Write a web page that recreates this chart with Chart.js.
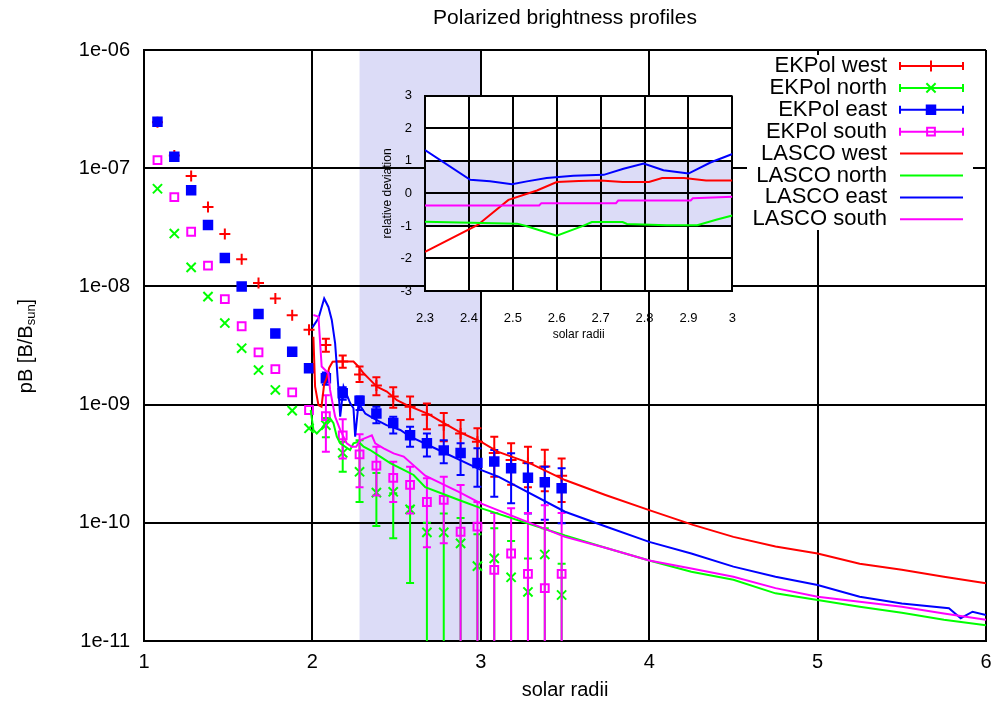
<!DOCTYPE html>
<html>
<head>
<meta charset="utf-8">
<script src="https://cdn.jsdelivr.net/npm/chart.js@4.4.1/dist/chart.umd.min.js"></script>
<style>
  html, body { margin: 0; padding: 0; background: #fff; }
  #wrap { position: relative; width: 1005px; height: 707px; }
  #main { position: absolute; left: 0; top: 0; }
  #inset { position: absolute; left: 360px; top: 75px; }
</style>
</head>
<body>
<div id="wrap">
  <canvas id="main" width="1005" height="707"></canvas>
  <canvas id="inset" width="396" height="275"></canvas>
</div>
<script>
// EKPol radial samples (solar radii) shared by the four limbs
const ekpolX = [1.08, 1.18, 1.28, 1.38, 1.48, 1.58, 1.68, 1.78, 1.88, 1.98, 2.08, 2.18, 2.28,
  2.38, 2.48, 2.58, 2.68, 2.78, 2.88, 2.98, 3.08, 3.18, 3.28, 3.38, 3.48];

const ekpolWest = [2.45e-7, 1.28e-7, 8.6e-8, 4.7e-8, 2.77e-8, 1.7e-8, 1.07e-8, 7.9e-9, 5.7e-9, 4.3e-9,
  3.19e-9, 2.31e-9, 1.8e-9, 1.45e-9, 1.17e-9, 9.6e-10, 8.2e-10, 6.7e-10, 5.7e-10, 4.85e-10,
  3.9e-10, 3.4e-10, 3.2e-10, 3.0e-10, 2.5e-10];
const ekpolWestLo = [null, null, null, null, null, null, null, null, null, null,
  2.8e-9, 2.05e-9, 1.55e-9, 1.2e-9, 9.4e-10, 7.5e-10, 6.2e-10, 4.9e-10, 4.0e-10, 3.4e-10,
  2.45e-10, 2.1e-10, 2.0e-10, 1.85e-10, 1.5e-10];
const ekpolWestHi = [null, null, null, null, null, null, null, null, null, null,
  3.6e-9, 2.6e-9, 2.1e-9, 1.7e-9, 1.4e-9, 1.17e-9, 1.02e-9, 8.5e-10, 7.4e-10, 6.3e-10,
  5.35e-10, 4.7e-10, 4.4e-10, 4.15e-10, 3.5e-10];

const ekpolNorth = [6.7e-8, 2.8e-8, 1.45e-8, 8.2e-9, 4.9e-9, 3.0e-9, 1.96e-9, 1.33e-9, 8.9e-10, 6.3e-10,
  6.7e-10, 3.9e-10, 2.7e-10, 1.8e-10, 1.83e-10, 1.3e-10, 8.3e-11, 8.3e-11, 6.7e-11, 4.3e-11,
  5.0e-11, 3.46e-11, 2.6e-11, 5.4e-11, 2.45e-11];
const ekpolNorthLo = [null, null, null, null, null, null, null, null, null, null,
  5.3e-10, 2.7e-10, 1.5e-10, 9.4e-11, 7.4e-11, 3.1e-11, 1e-12, 1e-12, 1e-12, 1e-12,
  1e-12, 1e-12, 1e-12, 1e-12, 1e-12];
const ekpolNorthHi = [null, null, null, null, null, null, null, null, null, null,
  7.7e-10, 4.85e-10, 5.0e-10, 2.64e-10, 1.78e-10, 1.37e-10, 1.0e-10, 1.2e-10, 1.1e-10, 8e-11,
  9e-11, 7e-11, 5e-11, 9e-11, 4.5e-11];

const ekpolEast = [2.47e-7, 1.25e-7, 6.5e-8, 3.3e-8, 1.74e-8, 1.0e-8, 5.85e-9, 4.0e-9, 2.8e-9, 2.03e-9,
  1.67e-9, 1.25e-9, 1.08e-9, 8.4e-10, 7.0e-10, 5.5e-10, 4.7e-10, 4.1e-10, 3.9e-10, 3.2e-10,
  3.3e-10, 2.9e-10, 2.4e-10, 2.2e-10, 1.96e-10];
const ekpolEastLo = [null, null, null, null, null, null, null, null, null, null,
  1.47e-9, 1.1e-9, 9.0e-10, 6.95e-10, 5.7e-10, 4.4e-10, 3.63e-10, 3.19e-10, 2.54e-10, 2.02e-10,
  1.66e-10, 1.46e-10, 1.2e-10, 1.06e-10, 9.9e-11];
const ekpolEastHi = [null, null, null, null, null, null, null, null, null, null,
  1.87e-9, 1.4e-9, 1.17e-9, 9.6e-10, 7.9e-10, 6.5e-10, 5.7e-10, 5.0e-10, 4.7e-10, 4.27e-10,
  4.13e-10, 3.87e-10, 3.19e-10, 2.98e-10, 2.89e-10];

const ekpolSouth = [1.17e-7, 5.7e-8, 2.9e-8, 1.5e-8, 7.8e-9, 4.6e-9, 2.77e-9, 2.0e-9, 1.27e-9, 9.0e-10,
  8.0e-10, 5.5e-10, 3.8e-10, 3.05e-10, 2.4e-10, 2.09e-10, 1.5e-10, 1.56e-10, 8.4e-11, 9.3e-11,
  4.0e-11, 5.5e-11, 3.7e-11, 2.8e-11, 3.7e-11];
const ekpolSouthLo = [null, null, null, null, null, null, null, null, null, null,
  4.0e-10, 3.5e-10, 2.0e-10, 1.7e-10, 1.5e-10, 1.2e-10, 6.2e-11, 6.7e-11, 1e-12, 1e-12,
  1e-12, 1e-12, 1e-12, 1e-12, 1e-12];
const ekpolSouthHi = [null, null, null, null, null, null, null, null, null, null,
  1.2e-9, 7.5e-10, 5.6e-10, 4.4e-10, 3.29e-10, 2.98e-10, 2.38e-10, 2.45e-10, 2.09e-10, 1.5e-10,
  1.21e-10, 1.33e-10, 1.21e-10, 1.41e-10, 1.21e-10];

// LASCO C2 profiles
const lascoWestX = [2.006, 2.016, 2.036, 2.054, 2.07, 2.083, 2.1, 2.12, 2.145, 2.244, 2.274, 2.304,
  2.343, 2.383, 2.442, 2.502, 2.561, 2.69, 2.75, 2.88, 3.0, 3.1, 3.29, 3.5, 3.74, 4.0, 4.26, 4.5,
  4.75, 5.0, 5.25, 5.5, 5.75, 6.0];
const lascoWest = [3.75e-9, 1.42e-9, 9.9e-10, 9.6e-10, 1.5e-9, 1.65e-9, 2.05e-9, 2.3e-9, 2.31e-9,
  2.31e-9, 2.09e-9, 1.84e-9, 1.62e-9, 1.42e-9, 1.29e-9, 1.09e-9, 9.9e-10, 8.3e-10, 7.4e-10, 5.8e-10,
  4.85e-10, 4.0e-10, 3.2e-10, 2.3e-10, 1.72e-10, 1.28e-10, 9.6e-11, 7.6e-11, 6.3e-11, 5.5e-11,
  4.5e-11, 4.0e-11, 3.5e-11, 3.08e-11];

const lascoNorthX = [1.99, 2.006, 2.026, 2.055, 2.076, 2.105, 2.125, 2.145, 2.165, 2.224, 2.244,
  2.274, 2.304, 2.343, 2.403, 2.462, 2.542, 2.601, 2.67, 2.87, 3.0, 3.5, 3.75, 4.0, 4.25, 4.5,
  4.75, 5.0, 5.25, 5.5, 5.75, 6.0];
const lascoNorth = [9.0e-10, 6.1e-10, 5.7e-10, 6.3e-10, 6.95e-10, 7.65e-10, 6.95e-10, 5.35e-10,
  4.7e-10, 4.13e-10, 4.7e-10, 4.85e-10, 4.4e-10, 4.13e-10, 3.63e-10, 3.2e-10, 2.8e-10, 2.54e-10,
  2.0e-10, 1.56e-10, 1.33e-10, 7.8e-11, 6.1e-11, 4.8e-11, 3.85e-11, 3.3e-11, 2.53e-11, 2.22e-11,
  1.95e-11, 1.73e-11, 1.51e-11, 1.36e-11];

const lascoEastX = [2.0, 2.036, 2.07, 2.095, 2.115, 2.135, 2.143, 2.155, 2.165, 2.185, 2.224,
  2.244, 2.254, 2.274, 2.314, 2.363, 2.44, 2.522, 2.581, 2.75, 3.0, 3.107, 3.5, 3.742, 4.0, 4.25,
  4.5, 4.75, 5.0, 5.25, 5.5, 5.78, 5.85, 5.92, 6.0];
const lascoEast = [4.5e-9, 5.37e-9, 7.9e-9, 6.7e-9, 5.2e-9, 3.3e-9, 2.3e-9, 1.33e-9, 7.9e-10,
  1.42e-9, 1.03e-9, 9.3e-10, 5.35e-10, 1.03e-9, 8.4e-10, 7.65e-10, 6.7e-10, 6.1e-10, 5.35e-10,
  4.13e-10, 2.8e-10, 2.45e-10, 1.24e-10, 9.3e-11, 6.9e-11, 5.5e-11, 4.26e-11, 3.5e-11, 2.98e-11,
  2.37e-11, 2.08e-11, 1.89e-11, 1.56e-11, 1.77e-11, 1.66e-11];

const lascoSouthX = [2.006, 2.036, 2.055, 2.095, 2.105, 2.135, 2.165, 2.204, 2.234, 2.26, 2.284,
  2.353, 2.373, 2.423, 2.482, 2.542, 2.67, 2.869, 3.0, 3.5, 3.75, 4.0, 4.25, 4.5, 4.75, 5.0, 5.25,
  5.5, 5.75, 6.0];
const lascoSouth = [5.73e-9, 5.55e-9, 2.1e-9, 1.84e-9, 1.33e-9, 7.9e-10, 6.1e-10, 4.7e-10, 4.4e-10,
  4.4e-10, 5.0e-10, 5.5e-10, 4.7e-10, 4.27e-10, 3.87e-10, 3.63e-10, 2.5e-10, 1.83e-10, 1.46e-10,
  7.6e-11, 6.1e-11, 4.8e-11, 4.1e-11, 3.5e-11, 2.8e-11, 2.37e-11, 2.15e-11, 1.95e-11, 1.71e-11,
  1.51e-11];

// relative deviation EKPol vs LASCO in the overlap interval
const overlapRange = [2.28, 3.0];
const devWestX = [2.3, 2.42, 2.49, 2.555, 2.6, 2.65, 2.7, 2.75, 2.81, 2.84, 2.89, 2.94, 3.0];
const devWest = [-1.8, -0.97, -0.2, 0.09, 0.35, 0.38, 0.4, 0.35, 0.35, 0.47, 0.47, 0.4, 0.4];
const devNorthX = [2.3, 2.51, 2.53, 2.6, 2.66, 2.68, 2.75, 2.76, 2.85, 2.92, 2.965, 3.0];
const devNorth = [-0.87, -0.93, -1.0, -1.3, -1.0, -0.88, -0.88, -0.94, -0.98, -0.98, -0.8, -0.68];
const devEastX = [2.3, 2.403, 2.448, 2.498, 2.532, 2.577, 2.638, 2.707, 2.752, 2.798, 2.843, 2.9, 2.95, 3.0];
const devEast = [1.33, 0.42, 0.37, 0.28, 0.37, 0.47, 0.54, 0.57, 0.76, 0.92, 0.71, 0.61, 0.95, 1.21];
const devSouthX = [2.3, 2.56, 2.565, 2.735, 2.74, 2.905, 2.91, 3.0];
const devSouth = [-0.37, -0.37, -0.3, -0.3, -0.22, -0.22, -0.15, -0.1];
const devBand = [-1, 1];

const xTicks = [1, 2, 3, 4, 5, 6];
const yTicks = [1e-11, 1e-10, 1e-9, 1e-8, 1e-7, 1e-6];
const yTickLabels = ['1e-11', '1e-10', '1e-09', '1e-08', '1e-07', '1e-06'];
const insetXTicks = [2.3, 2.4, 2.5, 2.6, 2.7, 2.8, 2.9, 3.0];
const insetYTicks = [-3, -2, -1, 0, 1, 2, 3];

const FONT = '"Liberation Sans", Arial, sans-serif';
Chart.defaults.font.family = FONT;
Chart.defaults.color = '#000';

const RED = '#ff0000', GREEN = '#00ff00', BLUE = '#0000ff', MAGENTA = '#ff00ff';

const pts = (xs, ys) => xs.map((x, i) => ({ x: x, y: ys[i] }));

function ekpolSet(label, ys, lo, hi, color, style, radius, fill, order) {
  return {
    label: label, data: pts(ekpolX, ys), errLo: lo, errHi: hi,
    showLine: false, borderColor: color, backgroundColor: fill,
    pointStyle: style, pointRadius: radius, pointBorderWidth: 2,
    pointBorderColor: color, pointBackgroundColor: fill, order: order
  };
}
function lascoSet(label, xs, ys, color, order) {
  return {
    label: label, data: pts(xs, ys), borderColor: color, backgroundColor: color,
    borderWidth: 2, pointRadius: 0, tension: 0, order: order
  };
}

// light band behind the overlap interval
const shadePlugin = {
  id: 'shade',
  beforeDraw(chart) {
    const { ctx, chartArea: a, scales: { x } } = chart;
    const x0 = x.getPixelForValue(overlapRange[0]);
    const x1 = x.getPixelForValue(overlapRange[1]);
    ctx.save();
    ctx.fillStyle = '#dcdcf7';
    ctx.fillRect(x0, a.top, x1 - x0, a.bottom - a.top);
    ctx.restore();
  }
};

// vertical error bars with caps, drawn with their own dataset
const errorBars = {
  id: 'errorBars',
  afterDatasetDraw(chart, args) {
    const ds = chart.data.datasets[args.index];
    if (!ds.errLo) return;
    const { ctx, chartArea: a, scales: { x, y } } = chart;
    ctx.save();
    ctx.beginPath();
    ctx.rect(a.left, a.top, a.right - a.left, a.bottom - a.top);
    ctx.clip();
    ctx.strokeStyle = ds.borderColor;
    ctx.lineWidth = 2;
    ds.data.forEach((p, i) => {
      if (ds.errLo[i] == null) return;
      const px = x.getPixelForValue(p.x);
      const yl = y.getPixelForValue(ds.errLo[i]);
      const yh = y.getPixelForValue(ds.errHi[i]);
      ctx.beginPath();
      ctx.moveTo(px, yl); ctx.lineTo(px, yh);
      ctx.moveTo(px - 4, yl); ctx.lineTo(px + 4, yl);
      ctx.moveTo(px - 4, yh); ctx.lineTo(px + 4, yh);
      ctx.stroke();
    });
    ctx.restore();
  }
};

const keyPlugin = {
  id: 'key',
  afterDraw(chart) {
    const ctx = chart.ctx;
    ctx.save();
    ctx.fillStyle = '#fff';
    ctx.fillRect(747, 55, 226, 175);
    ctx.font = '22px ' + FONT;
    ctx.textAlign = 'right';
    ctx.textBaseline = 'middle';
    chart.data.datasets.forEach((ds, i) => {
      const yy = 66 + i * 21.9;
      ctx.fillStyle = '#000';
      ctx.fillText(ds.label, 887, yy);
      ctx.strokeStyle = ds.borderColor;
      ctx.lineWidth = 2;
      ctx.beginPath();
      ctx.moveTo(900, yy); ctx.lineTo(963, yy);
      if (ds.errLo) {
        ctx.moveTo(900, yy - 4); ctx.lineTo(900, yy + 4);
        ctx.moveTo(963, yy - 4); ctx.lineTo(963, yy + 4);
      }
      ctx.stroke();
      if (ds.showLine === false) {
        ctx.fillStyle = ds.pointBackgroundColor;
        Chart.helpers.drawPoint(ctx, {
          pointStyle: ds.pointStyle, radius: ds.pointRadius, borderWidth: 2, rotation: 0
        }, 931, yy);
      }
    });
    ctx.restore();
  }
};

const labelsPlugin = {
  id: 'labels',
  afterDraw(chart) {
    const ctx = chart.ctx;
    ctx.save();
    ctx.fillStyle = '#000';
    ctx.textAlign = 'center';
    ctx.textBaseline = 'middle';
    ctx.font = '21px ' + FONT;
    ctx.fillText('Polarized brightness profiles', 565, 18);
    ctx.font = '20px ' + FONT;
    ctx.fillText('solar radii', 565, 690);

    // pB [B/B_sun] along the left edge
    ctx.translate(26, 346);
    ctx.rotate(-Math.PI / 2);
    const big = '20px ' + FONT, small = '13px ' + FONT;
    ctx.font = big; const w1 = ctx.measureText('pB [B/B').width; const w3 = ctx.measureText(']').width;
    ctx.font = small; const w2 = ctx.measureText('sun').width;
    let sx = -(w1 + w2 + w3) / 2;
    ctx.textAlign = 'left';
    ctx.font = big; ctx.fillText('pB [B/B', sx, 0); sx += w1;
    ctx.font = small; ctx.fillText('sun', sx, 5); sx += w2;
    ctx.font = big; ctx.fillText(']', sx, 0);
    ctx.restore();
  }
};

new Chart(document.getElementById('main'), {
  type: 'line',
  data: {
    datasets: [
      ekpolSet('EKPol west', ekpolWest, ekpolWestLo, ekpolWestHi, RED, 'cross', 5.5, RED, 8),
      ekpolSet('EKPol north', ekpolNorth, ekpolNorthLo, ekpolNorthHi, GREEN, 'crossRot', 6.5, GREEN, 7),
      ekpolSet('EKPol east', ekpolEast, ekpolEastLo, ekpolEastHi, BLUE, 'rect', 6, BLUE, 6),
      ekpolSet('EKPol south', ekpolSouth, ekpolSouthLo, ekpolSouthHi, MAGENTA, 'rect', 5.5, 'rgba(0,0,0,0)', 5),
      lascoSet('LASCO west', lascoWestX, lascoWest, RED, 4),
      lascoSet('LASCO north', lascoNorthX, lascoNorth, GREEN, 3),
      lascoSet('LASCO east', lascoEastX, lascoEast, BLUE, 2),
      lascoSet('LASCO south', lascoSouthX, lascoSouth, MAGENTA, 1)
    ]
  },
  options: {
    responsive: false,
    animation: false,
    devicePixelRatio: 1,
    layout: { padding: { top: 50, right: 19, left: 0, bottom: 0 } },
    plugins: { legend: { display: false }, tooltip: { enabled: false } },
    scales: {
      x: {
        type: 'linear', min: 1, max: 6,
        afterFit(s) { s.height = 66; },
        afterBuildTicks(s) { s.ticks = xTicks.map(v => ({ value: v })); },
        ticks: { padding: 9, autoSkip: false, maxRotation: 0, font: { size: 20 }, callback: v => String(v) },
        grid: { color: '#000', lineWidth: 2, drawTicks: false },
        border: { color: '#000', width: 2 }
      },
      y: {
        type: 'logarithmic', min: 1e-11, max: 1e-6,
        afterFit(s) { s.width = 144; },
        afterBuildTicks(s) { s.ticks = yTicks.map(v => ({ value: v })); },
        ticks: { padding: 14, autoSkip: false, font: { size: 20 }, callback: (v, i) => yTickLabels[i] },
        grid: { color: '#000', lineWidth: 2, drawTicks: false },
        border: { color: '#000', width: 2 }
      }
    }
  },
  plugins: [shadePlugin, errorBars, keyPlugin, labelsPlugin]
});

// inset: white plotting area with the +-1 band
const insetBack = {
  id: 'insetBack',
  beforeDraw(chart) {
    const { ctx, chartArea: a, scales: { y } } = chart;
    ctx.save();
    ctx.fillStyle = '#fff';
    ctx.fillRect(a.left, a.top, a.right - a.left, a.bottom - a.top);
    const y0 = y.getPixelForValue(devBand[1]);
    const y1 = y.getPixelForValue(devBand[0]);
    ctx.fillStyle = '#dcdcf7';
    ctx.fillRect(a.left, y0, a.right - a.left, y1 - y0);
    ctx.restore();
  },
  afterDraw(chart) {
    const { ctx, chartArea: a } = chart;
    ctx.save();
    ctx.fillStyle = '#000';
    ctx.textAlign = 'center';
    ctx.textBaseline = 'middle';
    ctx.font = '12px ' + FONT;
    ctx.fillText('solar radii', (a.left + a.right) / 2, 260);
    ctx.translate(28, (a.top + a.bottom) / 2);
    ctx.rotate(-Math.PI / 2);
    ctx.fillText('relative deviation', 0, 0);
    ctx.restore();
  }
};

const devSet = (xs, ys, color) => ({
  data: pts(xs, ys), borderColor: color, borderWidth: 2, pointRadius: 0, tension: 0
});

new Chart(document.getElementById('inset'), {
  type: 'line',
  data: {
    datasets: [
      devSet(devSouthX, devSouth, MAGENTA),
      devSet(devEastX, devEast, BLUE),
      devSet(devNorthX, devNorth, GREEN),
      devSet(devWestX, devWest, RED)
    ]
  },
  options: {
    responsive: false,
    animation: false,
    devicePixelRatio: 1,
    layout: { padding: { top: 8, right: 13, left: 0, bottom: 0 } },
    plugins: { legend: { display: false }, tooltip: { enabled: false } },
    scales: {
      x: {
        type: 'linear', min: 2.3, max: 3.0,
        afterFit(s) { s.height = 59; },
        afterBuildTicks(s) { s.ticks = insetXTicks.map(v => ({ value: v })); },
        ticks: { padding: 20, autoSkip: false, maxRotation: 0, font: { size: 13 }, callback: v => String(v) },
        grid: { color: '#000', lineWidth: 2, drawTicks: false },
        border: { color: '#000', width: 2 }
      },
      y: {
        type: 'linear', min: -3, max: 3,
        afterFit(s) { s.width = 65; },
        afterBuildTicks(s) { s.ticks = insetYTicks.map(v => ({ value: v })); },
        ticks: { padding: 13, autoSkip: false, font: { size: 13 }, callback: v => String(v) },
        grid: { color: '#000', lineWidth: 2, drawTicks: false },
        border: { color: '#000', width: 2 }
      }
    }
  },
  plugins: [insetBack]
});
</script>
</body>
</html>
